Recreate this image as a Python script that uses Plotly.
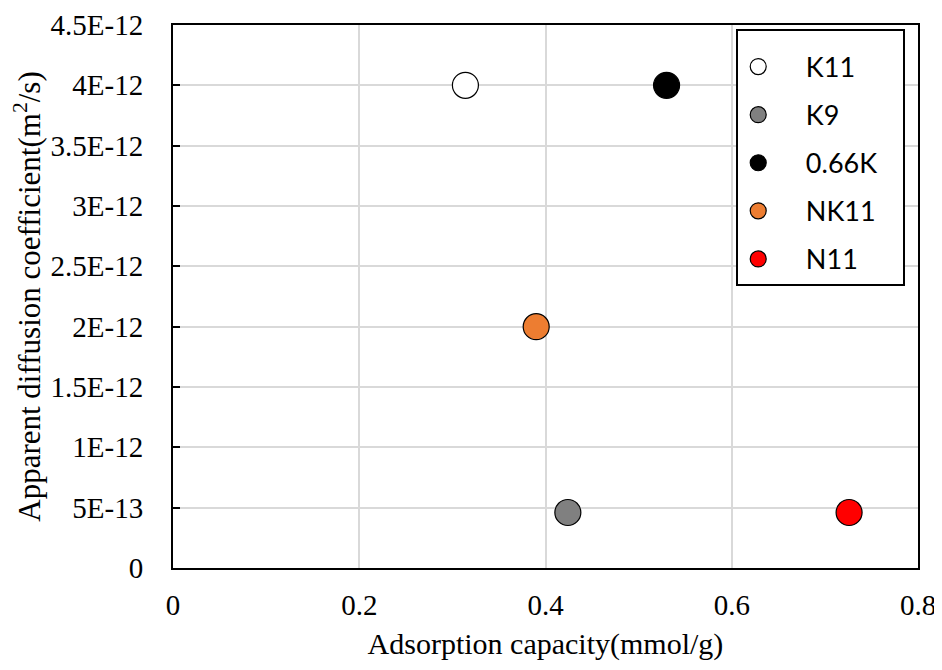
import plotly.graph_objects as go

names = ["K11", "K9", "0.66K", "NK11", "N11"]
capacity = [0.314, 0.424, 0.530, 0.390, 0.726]
diffusion = [4.0e-12, 4.6e-13, 4.0e-12, 2.0e-12, 4.6e-13]
colors = ["#FFFFFF", "#808080", "#000000", "#ED7D31", "#FF0000"]

x_ticks = [0, 0.2, 0.4, 0.6, 0.8]
x_ticktext = ["0", "0.2", "0.4", "0.6", "0.8"]
y_ticks = [0, 0.5e-12, 1e-12, 1.5e-12, 2e-12, 2.5e-12, 3e-12, 3.5e-12, 4e-12, 4.5e-12]
y_ticktext = ["0", "5E-13", "1E-12", "1.5E-12", "2E-12", "2.5E-12", "3E-12", "3.5E-12", "4E-12", "4.5E-12"]

pad = "\u00a0\u00a0\u00a0\u00a0"
tail = "\u00a0\u00a0\u00a0"

fig = go.Figure()
for i, n in enumerate(names):
    fig.add_trace(go.Scatter(
        x=[capacity[i]], y=[diffusion[i]], mode="markers", name=pad + n + tail,
        legendgroup=n,
        marker=dict(size=26, color=colors[i], line=dict(color="#000000", width=1.2)),
    ))

serif = "Liberation Serif, Times New Roman, serif"
fig.update_layout(
    width=942, height=670,
    margin=dict(l=165, r=32, t=17, b=110),
    paper_bgcolor="white", plot_bgcolor="white",
    font=dict(family=serif, size=29, color="#000000"),
    showlegend=True,
    legend=dict(
        x=0.756, y=0.993, xanchor="left", yanchor="top",
        bordercolor="#000000", borderwidth=2, bgcolor="white",
        font=dict(family="Lato, Noto Sans, sans-serif", size=27, color="#000000"),
        tracegroupgap=10, itemsizing="trace",
        title=dict(text="\u00a0", font=dict(size=9)),
    ),
    xaxis=dict(
        range=[0, 0.8], tickvals=x_ticks, ticktext=x_ticktext,
        showgrid=True, gridcolor="#D9D9D9", gridwidth=2,
        showline=True, linecolor="#000000", linewidth=2, mirror=True,
        ticks="", zeroline=False, automargin=False,
        ticklabelstandoff=10, ticklabeloverflow="allow",
        title=dict(text="Adsorption capacity(mmol/g)", font=dict(size=30), standoff=13),
        tickfont=dict(size=29),
    ),
    yaxis=dict(
        range=[0, 4.5e-12], tickvals=y_ticks, ticktext=y_ticktext,
        showgrid=True, gridcolor="#D9D9D9", gridwidth=2,
        showline=True, linecolor="#000000", linewidth=2, mirror=True,
        ticks="inside", ticklen=7, tickwidth=2, tickcolor="#000000", zeroline=False,
        automargin=False, ticklabelstandoff=22, ticklabeloverflow="allow",
        title=dict(text="Apparent diffusion coefficient(m<sup>2</sup>/s)", font=dict(size=31), standoff=6),
        tickfont=dict(size=29),
    ),
)

fig.write_html("out.html")
